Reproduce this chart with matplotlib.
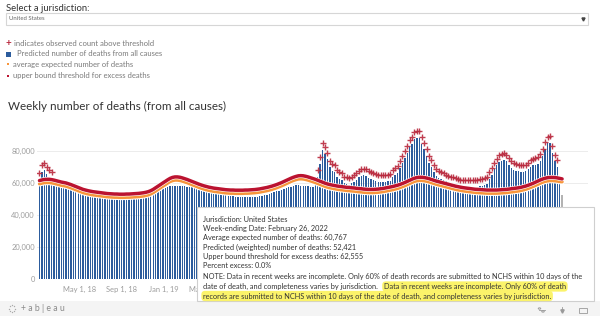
import numpy as np
import pandas as pd
import matplotlib
matplotlib.use("Agg")
import matplotlib.pyplot as plt
import matplotlib.patheffects as pe
from matplotlib.patches import Rectangle, Circle
from matplotlib.lines import Line2D
from matplotlib.ticker import FuncFormatter, FixedLocator

plt.rcParams["font.family"] = ["Lato", "DejaVu Sans"]

W, H = 600, 324

# ---- data (weekly, thousands of deaths) ----
week_ending = pd.date_range("2018-01-06", periods=217, freq="7D")

predicted_k = [
    # 2018
    62.2, 67.0, 68.4, 65.5, 63.8, 62.5, 60.5, 59.8, 59.2, 58.8,
    58.2, 57.6, 57.0, 56.4, 56.0, 55.6, 55.2, 54.8, 54.4, 54.0,
    53.7, 53.4, 53.1, 52.8, 52.6, 52.4, 52.0, 51.7, 51.4, 51.2,
    51.0, 50.9, 50.8, 50.8, 50.9, 51.0, 51.0, 51.1, 51.2, 51.3,
    51.4, 51.6, 51.8, 52.0, 52.3, 52.6, 52.9, 53.5, 54.5, 55.5,
    56.3, 57.0,
    # 2019
    57.0, 57.5, 58.0, 58.3, 58.3, 58.2, 58.0, 58.0, 57.9, 57.8,
    57.6, 57.3, 57.0, 56.7, 56.3, 55.8, 55.3, 54.8, 54.5, 54.2,
    53.9, 53.6, 53.3, 53.0, 52.7, 52.4, 52.1, 51.8, 51.6, 51.4,
    51.3, 51.2, 51.1, 51.0, 51.0, 51.0, 51.1, 51.2, 51.4, 51.7,
    52.0, 52.4, 52.8, 53.3, 53.8, 54.3, 54.8, 55.3, 55.8, 56.3,
    56.8, 57.3,
    # 2020
    57.8, 58.3, 58.5, 58.5, 58.4, 58.3, 58.2, 58.0, 57.8, 57.6,
    59.0, 63.7, 72.0, 80.7, 78.4, 74.7, 69.7, 67.5, 66.7, 63.7,
    62.5, 61.7, 59.7, 59.2, 58.7, 59.7, 60.7, 61.7, 63.5, 64.5,
    64.7, 64.2, 63.2, 62.7, 62.0, 61.2, 60.7, 60.5, 60.5, 60.7,
    61.0, 61.5, 63.7, 65.0, 66.5, 69.5, 72.5, 75.5, 79.0, 82.5,
    84.5, 87.5,
    # 2021
    88.3, 88.0, 84.5, 81.0, 77.0, 72.5, 70.0, 67.0, 64.5, 63.0,
    62.5, 61.7, 61.0, 60.2, 59.7, 59.2, 58.7, 58.2, 57.8, 57.7,
    57.7, 57.6, 57.7, 57.5, 57.6, 57.7, 58.0, 58.3, 58.6, 59.5,
    62.5, 65.0, 68.5, 71.0, 73.0, 74.0, 74.4, 73.5, 71.5, 69.5,
    68.0, 67.5, 67.2, 67.0, 67.0, 67.2, 68.5, 70.0, 71.0, 71.5,
    72.0, 74.0,
    # 2022
    77.0, 81.5, 84.7, 85.0, 79.0, 73.5, 70.0, 62.0, 52.421,
]

expected_k = [
    # 2018
    59.5, 59.9, 60.2, 60.3, 60.3, 60.1, 59.8, 59.4, 59.0, 58.6,
    58.3, 58.0, 57.5, 57.0, 56.4, 55.8, 55.2, 54.6, 54.0, 53.6,
    53.2, 52.9, 52.6, 52.4, 52.2, 52.0, 51.8, 51.6, 51.4, 51.3,
    51.2, 51.1, 51.1, 51.0, 51.0, 51.0, 51.1, 51.1, 51.2, 51.3,
    51.4, 51.5, 51.7, 51.9, 52.2, 52.6, 53.2, 54.0, 55.0, 56.0,
    57.0, 58.0,
    # 2019
    59.0, 60.0, 60.9, 61.5, 61.8, 61.8, 61.6, 61.2, 60.7, 60.2,
    59.6, 59.0, 58.4, 57.8, 57.2, 56.7, 56.2, 55.8, 55.4, 55.1,
    54.8, 54.6, 54.4, 54.2, 54.0, 53.8, 53.7, 53.6, 53.6, 53.5,
    53.5, 53.5, 53.5, 53.6, 53.6, 53.7, 53.8, 53.9, 54.1, 54.3,
    54.6, 54.9, 55.2, 55.6, 56.0, 56.5, 57.0, 57.6, 58.2, 58.9,
    59.6, 60.3,
    # 2020
    61.0, 61.6, 62.1, 62.5, 62.6, 62.5, 62.2, 61.8, 61.3, 60.8,
    60.3, 59.7, 59.1, 58.5, 57.9, 57.4, 57.0, 56.7, 56.4, 56.1,
    55.9, 55.7, 55.5, 55.3, 55.2, 55.0, 54.9, 54.7, 54.5, 54.4,
    54.2, 54.1, 54.0, 54.0, 54.0, 54.1, 54.2, 54.4, 54.6, 54.9,
    55.2, 55.5, 55.8, 56.2, 56.6, 57.1, 57.7, 58.3, 59.0, 59.7,
    60.4, 61.0,
    # 2021
    61.4, 61.6, 61.6, 61.4, 61.1, 60.7, 60.2, 59.7, 59.2, 58.8,
    58.4, 58.0, 57.6, 57.2, 56.8, 56.4, 56.0, 55.7, 55.4, 55.1,
    54.9, 54.7, 54.5, 54.3, 54.1, 54.0, 53.9, 53.8, 53.7, 53.6,
    53.6, 53.6, 53.6, 53.6, 53.7, 53.8, 53.9, 54.0, 54.2, 54.4,
    54.6, 54.8, 55.0, 55.3, 55.7, 56.1, 56.6, 57.2, 57.8, 58.5,
    59.2, 59.9,
    # 2022
    60.5, 61.0, 61.3, 61.5, 61.5, 61.4, 61.2, 60.9, 60.767,
]

threshold_k = [
    # 2018
    61.5, 61.9, 62.2, 62.3, 62.3, 62.1, 61.8, 61.4, 61.0, 60.6,
    60.3, 60.0, 59.5, 59.0, 58.4, 57.8, 57.2, 56.6, 56.0, 55.6,
    55.2, 54.9, 54.6, 54.4, 54.2, 54.0, 53.8, 53.6, 53.4, 53.3,
    53.2, 53.1, 53.1, 53.0, 53.0, 53.0, 53.1, 53.1, 53.2, 53.3,
    53.4, 53.5, 53.7, 53.9, 54.2, 54.6, 55.2, 56.0, 57.0, 58.0,
    59.0, 60.0,
    # 2019
    61.0, 62.0, 62.9, 63.5, 63.8, 63.8, 63.6, 63.2, 62.7, 62.2,
    61.6, 61.0, 60.4, 59.8, 59.2, 58.7, 58.2, 57.8, 57.4, 57.1,
    56.8, 56.6, 56.4, 56.2, 56.0, 55.8, 55.7, 55.6, 55.6, 55.5,
    55.5, 55.5, 55.5, 55.6, 55.6, 55.7, 55.8, 55.9, 56.1, 56.3,
    56.6, 56.9, 57.2, 57.6, 58.0, 58.5, 59.0, 59.6, 60.2, 60.9,
    61.6, 62.3,
    # 2020
    63.0, 63.6, 64.1, 64.5, 64.6, 64.5, 64.2, 63.8, 63.3, 62.8,
    62.3, 61.7, 61.1, 60.5, 59.9, 59.4, 59.0, 58.7, 58.4, 58.1,
    57.9, 57.7, 57.5, 57.3, 57.2, 57.0, 56.9, 56.7, 56.5, 56.4,
    56.2, 56.1, 56.0, 56.0, 56.0, 56.1, 56.2, 56.4, 56.6, 56.9,
    57.2, 57.5, 57.8, 58.2, 58.6, 59.1, 59.7, 60.3, 61.0, 61.7,
    62.4, 63.0,
    # 2021
    63.4, 63.6, 63.6, 63.4, 63.1, 62.7, 62.2, 61.7, 61.2, 60.8,
    60.4, 60.0, 59.6, 59.2, 58.8, 58.4, 58.0, 57.7, 57.4, 57.1,
    56.9, 56.7, 56.5, 56.3, 56.1, 56.0, 55.9, 55.8, 55.7, 55.6,
    55.6, 55.6, 55.6, 55.6, 55.7, 55.8, 55.9, 56.0, 56.2, 56.4,
    56.6, 56.8, 57.0, 57.3, 57.7, 58.1, 58.6, 59.2, 59.8, 60.5,
    61.2, 61.9,
    # 2022
    62.5, 63.0, 63.3, 63.5, 63.5, 63.4, 63.2, 62.9, 62.555,
]

y_ticks = [0, 20000, 40000, 60000, 80000]
x_tick_dates = pd.date_range("2018-05-01", "2022-03-01", freq="4MS")
jurisdiction = "United States"
hover_week = pd.Timestamp("2022-02-26")

predicted = np.array(predicted_k) * 1000
expected = np.array(expected_k) * 1000
threshold = np.array(threshold_k) * 1000

# ---- colours ----
BAR_BLUE = "#2c5c9d"
BAR_HOVER = "#b3b3b3"
RED = "#bb1330"
ORANGE = "#f7953b"
PLUS_RED = "#b9283d"
TXT = "#333333"
LEGEND_TXT = "#7a7a7a"
AXIS_TXT = "#9c9c9c"

TIP_LEFT, TIP_TOP, TIP_RIGHT, TIP_BOTTOM = 197, 207, 594, 301


def fx(x):
    return x / W


def fy(y):
    return 1 - y / H


fig = plt.figure(figsize=(W / 100, H / 100), dpi=100)
fig.patch.set_facecolor("white")

# ---- header: jurisdiction selector ----
fig.text(fx(6), fy(8.5), "Select a jurisdiction:", fontsize=6.8, color=TXT, va="center")
fig.add_artist(Rectangle((fx(6), fy(24.5)), fx(582), 11 / H, transform=fig.transFigure,
                         facecolor="white", edgecolor="#d6d6d6", lw=0.8))
fig.text(fx(9), fy(19), jurisdiction, fontsize=4.3, color="#666666", va="center")
fig.add_artist(Line2D([fx(583)], [fy(19)], marker="v", ms=2.2, color="#444444",
                      transform=fig.transFigure))

# ---- legend ----
fig.text(fx(5.6), fy(43.5), "+", fontsize=7, color=PLUS_RED, va="center", fontweight="bold")
fig.text(fx(14), fy(43.5), "indicates observed count above threshold",
         fontsize=5.5, color=LEGEND_TXT, va="center")
fig.add_artist(Rectangle((fx(6), fy(57)), 5 / W, 5 / H, transform=fig.transFigure,
                         facecolor=BAR_BLUE, edgecolor="none"))
fig.text(fx(17), fy(54), "Predicted number of deaths from all causes",
         fontsize=5.5, color=LEGEND_TXT, va="center")
fig.add_artist(Rectangle((fx(6.5), fy(65)), 2.5 / W, 2 / H, transform=fig.transFigure,
                         facecolor=ORANGE, edgecolor="none"))
fig.text(fx(13), fy(64.2), "average expected number of deaths",
         fontsize=5.5, color=LEGEND_TXT, va="center")
fig.add_artist(Rectangle((fx(6.5), fy(76.5)), 2.5 / W, 2 / H, transform=fig.transFigure,
                         facecolor=RED, edgecolor="none"))
fig.text(fx(13), fy(75.8), "upper bound threshold for excess deaths",
         fontsize=5.5, color=LEGEND_TXT, va="center")

fig.text(fx(8), fy(106), "Weekly number of deaths (from all causes)",
         fontsize=8.4, color=TXT, va="center")

# ---- main chart ----
ax = fig.add_axes([fx(37), fy(279), (588 - 37) / W, (279 - 120) / H])
ax.set_xlim(week_ending[0] - pd.Timedelta(days=7.2), week_ending[-1] + pd.Timedelta(days=75))
ax.set_ylim(0, 99375)

bar_colors = [BAR_HOVER if d == hover_week else BAR_BLUE for d in week_ending]
ax.bar(week_ending, predicted, width=4.0, color=bar_colors, linewidth=0, zorder=2)

ax.plot(week_ending, expected, color=ORANGE, lw=2.4, zorder=3, solid_capstyle="round",
        path_effects=[pe.Stroke(linewidth=3.9, foreground="white"), pe.Normal()])
ax.plot(week_ending, threshold, color=RED, lw=2.5, zorder=4, solid_capstyle="round",
        path_effects=[pe.Stroke(linewidth=3.4, foreground="white"), pe.Normal()])

above = predicted > threshold
ax.plot(week_ending[above], predicted[above] + 4300, ls="none", marker="+", ms=4.3,
        mew=1.0, color=PLUS_RED, alpha=0.9, zorder=5)

ax.yaxis.set_major_locator(FixedLocator(y_ticks))
ax.yaxis.set_major_formatter(FuncFormatter(lambda v, p: f"{v:,.0f}"))
ax.xaxis.set_major_locator(FixedLocator([matplotlib.dates.date2num(d) for d in x_tick_dates]))
ax.xaxis.set_major_formatter(FuncFormatter(
    lambda v, p: (lambda d: f"{d.strftime('%b')} {d.day}, {d.strftime('%y')}")(
        matplotlib.dates.num2date(v))))
ax.tick_params(axis="both", length=0, labelsize=5.4, labelcolor=AXIS_TXT)
ax.tick_params(axis="y", pad=1.6)
ax.tick_params(axis="x", pad=5.2)
ax.grid(axis="y", color="#ececec", lw=0.7, zorder=0)
ax.set_axisbelow(True)
for s in ax.spines.values():
    s.set_visible(False)

# ---- footer strip ----
fig.add_artist(Rectangle((0, fy(316)), 1, 15 / H, transform=fig.transFigure,
                         facecolor="#f4f4f4", edgecolor="none", zorder=1))
fig.add_artist(Rectangle((0, fy(316)), 1, 0.5 / H, transform=fig.transFigure,
                         facecolor="#e4e4e4", edgecolor="none", zorder=1))
for k in range(8):
    a = k * np.pi / 4
    fig.add_artist(Line2D([fx(12 + 3.4 * np.cos(a))], [fy(308.5 + 3.4 * np.sin(a))],
                          marker="o", ms=1.0, color="#aaaaaa", mew=0,
                          transform=fig.transFigure, zorder=2))
fig.text(fx(21), fy(308.5), "+ a b | e a u", fontsize=6.2, color="#8a8a8a", va="center", zorder=2)

# ---- hover tooltip ----
tip_w, tip_h = TIP_RIGHT - TIP_LEFT, TIP_BOTTOM - TIP_TOP
fig.add_artist(Rectangle((fx(TIP_LEFT + 1), fy(TIP_BOTTOM + 1)), tip_w / W, tip_h / H,
                         transform=fig.transFigure, facecolor="#dddddd", edgecolor="none",
                         alpha=0.6, zorder=5))
fig.add_artist(Rectangle((fx(TIP_LEFT), fy(TIP_BOTTOM)), tip_w / W, tip_h / H,
                         transform=fig.transFigure, facecolor="white", edgecolor="#cfcfcf",
                         lw=0.8, zorder=6))

h = int(np.where(week_ending == hover_week)[0][0])
excess = max(0.0, (predicted[h] - threshold[h]) / threshold[h] * 100)
tip_lines = [
    f"Jurisdiction: {jurisdiction}",
    f"Week-ending Date: {hover_week.strftime('%B')} {hover_week.day}, {hover_week.year}",
    f"Average expected number of deaths: {expected[h]:,.0f}",
    f"Predicted (weighted) number of deaths: {predicted[h]:,.0f}",
    f"Upper bound threshold for excess deaths: {threshold[h]:,.0f}",
    f"Percent excess: {excess:.1f}%",
]
tip_y = [219, 228.4, 237.8, 247.2, 256.6, 266]
TIP_FS = 5.35
for s, y in zip(tip_lines, tip_y):
    fig.text(fx(203), fy(y), s, fontsize=TIP_FS, color=TXT, va="center", zorder=7)

note_a = "Data in recent weeks are incomplete. Only 60% of death"
note_b = ("records are submitted to NCHS within 10 days of the date of death, "
          "and completeness varies by jurisdiction.")
fig.text(fx(203), fy(277),
         "NOTE: " + note_a + " records are submitted to NCHS within 10 days of the",
         fontsize=TIP_FS, color=TXT, va="center", zorder=7)
t1 = fig.text(fx(203), fy(286.5), "date of death, and completeness varies by jurisdiction.",
              fontsize=TIP_FS, color=TXT, va="center", zorder=7)
fig.canvas.draw()
x_end = t1.get_window_extent().x1
hl = dict(boxstyle="round,pad=0.22,rounding_size=0.5", facecolor="#fbf36a", edgecolor="none")
fig.text((x_end + 6) / W, fy(286.5), note_a, fontsize=TIP_FS, color=TXT, va="center",
         zorder=7, bbox=hl)
fig.text(fx(203), fy(296), note_b, fontsize=TIP_FS, color=TXT, va="center", zorder=7, bbox=hl)

# tick labels lying fully under the tooltip are not shown
for lbl in ax.get_xticklabels():
    if lbl.get_window_extent().x0 > TIP_LEFT:
        lbl.set_visible(False)

# toolbar icons
ic = "#9a9a9a"
for cx, cy in [(539.5, 308.5), (543, 311.5)]:
    fig.add_artist(Circle((fx(cx), fy(cy)), 1.3 / W, transform=fig.transFigure,
                          facecolor="none", edgecolor=ic, lw=0.6, zorder=8))
fig.add_artist(Line2D([fx(539), fx(545)], [fy(309.5), fy(309.5)], color=ic, lw=0.6,
                      transform=fig.transFigure, zorder=8))
fig.add_artist(Line2D([fx(562)], [fy(310.5)], marker="v", ms=2.4, color=ic,
                      transform=fig.transFigure, zorder=8))
fig.add_artist(Line2D([fx(562), fx(562)], [fy(306.5), fy(310)], color=ic, lw=0.6,
                      transform=fig.transFigure, zorder=8))
fig.add_artist(Rectangle((fx(579), fy(313)), 8 / W, 5 / H, transform=fig.transFigure,
                         facecolor="none", edgecolor=ic, lw=0.6, zorder=8))

fig.savefig("out.png", dpi=100, facecolor="white")
